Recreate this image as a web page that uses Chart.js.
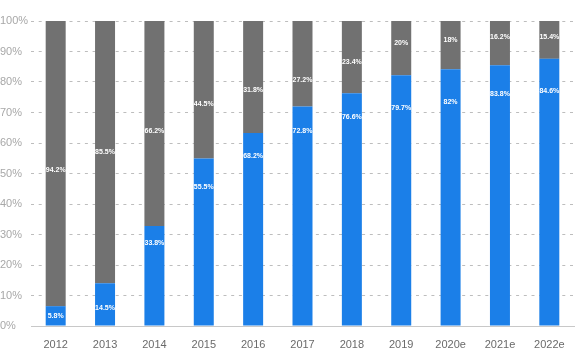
<!DOCTYPE html>
<html>
<head>
<meta charset="utf-8">
<script src="https://cdn.jsdelivr.net/npm/chart.js@4"></script>
<style>
html,body{margin:0;padding:0;background:#fff;}
#wrap{width:576px;height:354px;}
</style>
</head>
<body>
<div id="wrap"><canvas id="c" width="576" height="354"></canvas></div>
<script>
const categories = ['2012','2013','2014','2015','2016','2017','2018','2019','2020e','2021e','2022e'];
// bar heights (percent)
const blueValues = [6.5, 14.0, 32.8, 54.9, 63.3, 72.0, 76.3, 82.2, 84.2, 85.5, 87.6];
const greyValues = [93.5, 86.0, 67.2, 45.1, 36.7, 28.0, 23.7, 17.8, 15.8, 14.5, 12.4];
// printed labels
const blueLabels = ['5.8%','14.5%','33.8%','55.5%','68.2%','72.8%','76.6%','79.7%','82%','83.8%','84.6%'];
const greyLabels = ['94.2%','85.5%','66.2%','44.5%','31.8%','27.2%','23.4%','20%','18%','16.2%','15.4%'];
// where each printed label sits, in percent units
const blueLabelAt = [3.4, 5.8, 27.3, 45.6, 55.8, 64.0, 68.6, 71.3, 73.5, 75.9, 77.0];
const greyLabelAt = [51.1, 56.9, 63.9, 72.9, 77.3, 80.5, 86.4, 92.8, 93.9, 94.8, 94.6];
const yTicks = [0,10,20,30,40,50,60,70,80,90,100];

const labelPlugin = {
  id: 'segLabels',
  afterDatasetsDraw(chart) {
    const ctx = chart.ctx;
    const y = chart.scales.y;
    const sets = [[blueLabels, blueLabelAt], [greyLabels, greyLabelAt]];
    ctx.save();
    ctx.fillStyle = '#ffffff';
    ctx.font = 'bold 7px "Liberation Sans", Arial, sans-serif';
    ctx.textAlign = 'center';
    ctx.textBaseline = 'middle';
    sets.forEach((s, di) => {
      const meta = chart.getDatasetMeta(di);
      meta.data.forEach((bar, i) => {
        ctx.fillText(s[0][i], bar.x, y.getPixelForValue(s[1][i]));
      });
    });
    ctx.restore();
  }
};

new Chart(document.getElementById('c'), {
  type: 'bar',
  data: {
    labels: categories,
    datasets: [
      { data: blueValues, backgroundColor: '#1b7fe8', borderWidth: 0, barPercentage: 0.405, categoryPercentage: 1 },
      { data: greyValues, backgroundColor: '#717171', borderWidth: 0, barPercentage: 0.405, categoryPercentage: 1 }
    ]
  },
  options: {
    responsive: false,
    animation: false,
    devicePixelRatio: 1,
    layout: { padding: { top: 21, right: 2, left: 0, bottom: 0 } },
    plugins: { legend: { display: false }, tooltip: { enabled: false } },
    scales: {
      x: {
        stacked: true,
        grid: { display: false },
        border: { display: true, color: '#c8c8c8', width: 1 },
        ticks: { color: '#6a6a6a', padding: 4, font: { family: '"Liberation Sans", Arial, sans-serif', size: 11 } },
        afterFit(s) { s.height = 28; }
      },
      y: {
        stacked: true,
        min: 0, max: 100,
        afterBuildTicks(s) { s.ticks = yTicks.map(v => ({ value: v })); },
        grid: { color: '#bdbdbd', lineWidth: 1, drawTicks: false },
        border: { display: false, dash: [3, 4.7] },
        ticks: {
          color: '#a8a8a8',
          padding: 0,
          crossAlign: 'far',
          font: { family: '"Liberation Sans", Arial, sans-serif', size: 11 },
          callback: v => v + '%'
        },
        afterFit(s) { s.width = 31; }
      }
    }
  },
  plugins: [labelPlugin]
});
</script>
</body>
</html>
